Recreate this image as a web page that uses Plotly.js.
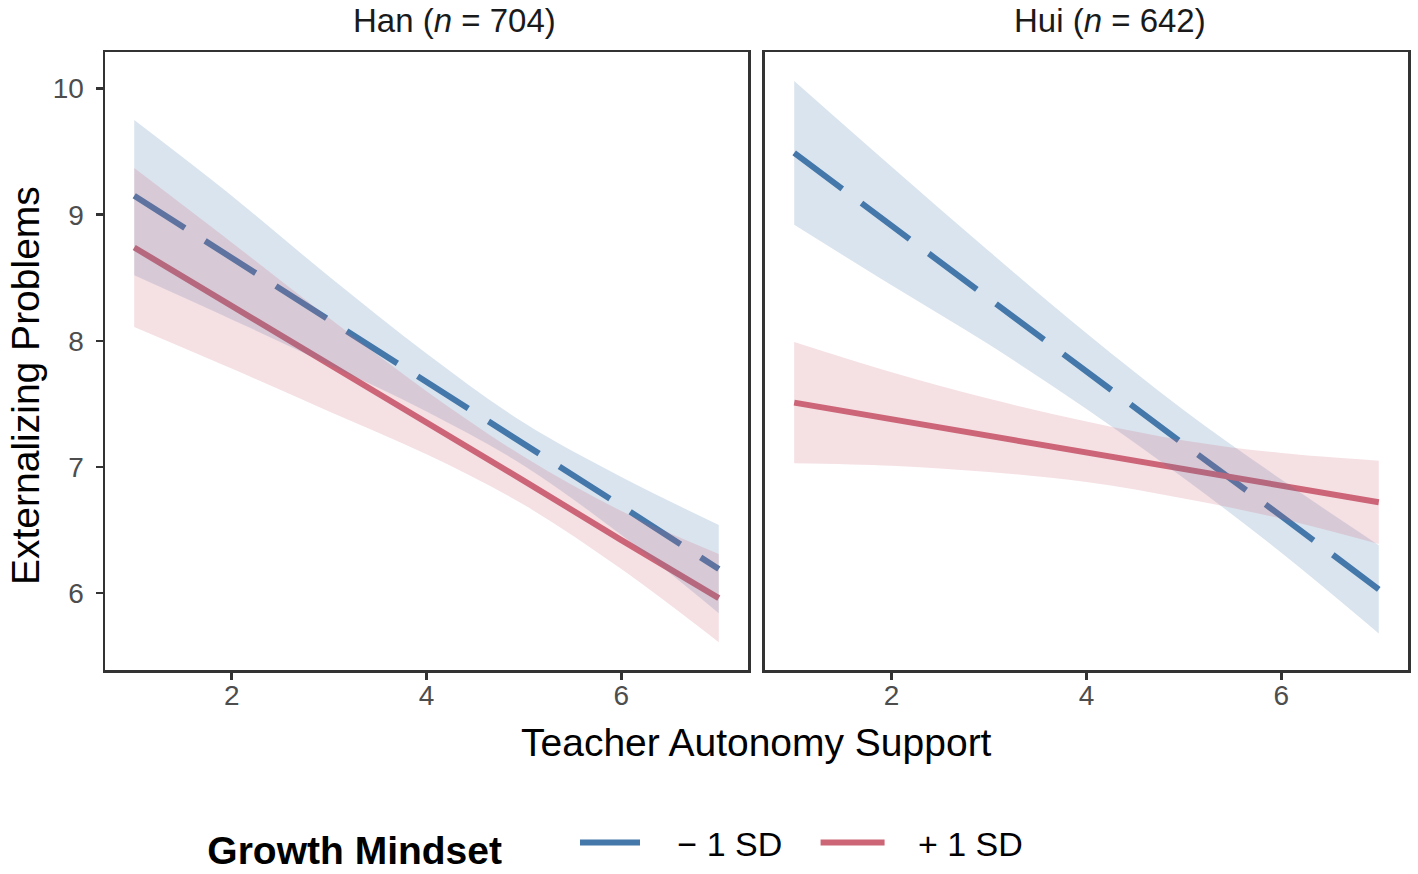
<!DOCTYPE html>
<html>
<head>
<meta charset="utf-8">
<script src="https://cdn.plot.ly/plotly-3.0.1.min.js"></script>
<style>
  html, body { margin: 0; padding: 0; background: #fff; }
  #myDiv { width: 1418px; height: 874px; }
</style>
</head>
<body>
<div id="myDiv"></div>
<script>
// teacher autonomy support values where the fitted lines were read
var xGrid = [1, 2, 3, 4, 5, 6, 7];

// Han (n = 704)
var hanLowFit = [9.15, 8.66, 8.16, 7.67, 7.18, 6.69, 6.19];     // growth mindset -1 SD
var hanLowUpper = [9.75, 9.15, 8.51, 7.90, 7.35, 6.92, 6.54];
var hanLowLower = [8.52, 8.17, 7.81, 7.44, 7.01, 6.46, 5.84];
var hanHighFit = [8.74, 8.28, 7.81, 7.35, 6.89, 6.42, 5.96];    // growth mindset +1 SD
var hanHighUpper = [9.37, 8.78, 8.18, 7.60, 7.08, 6.65, 6.31];
var hanHighLower = [8.11, 7.78, 7.44, 7.10, 6.70, 6.19, 5.61];

// Hui (n = 642)
var huiLowFit = [9.49, 8.91, 8.34, 7.76, 7.18, 6.61, 6.03];
var huiLowUpper = [10.06, 9.38, 8.71, 8.06, 7.45, 6.90, 6.38];
var huiLowLower = [8.92, 8.44, 7.97, 7.46, 6.91, 6.32, 5.68];
var huiHighFit = [7.51, 7.38, 7.25, 7.12, 6.98, 6.85, 6.72];
var huiHighUpper = [7.99, 7.75, 7.54, 7.36, 7.21, 7.11, 7.05];
var huiHighLower = [7.03, 7.01, 6.96, 6.88, 6.75, 6.59, 6.39];

var panelTitles = ["Han (<i>n</i> = 704)", "Hui (<i>n</i> = 642)"];
var groupNames = ["\u2212 1 SD", "+ 1 SD"];

var blue = "#4477AA";
var red = "#CC6677";
var blueFill = "rgba(68,119,170,0.2)";
var redFill = "rgba(204,102,119,0.2)";
var font = "Liberation Sans, Arial, Helvetica, sans-serif";

function pad(n) {
    return new Array(n + 1).join("&nbsp;");
}

function fitLine(y, xa, ya, name, label, color, dashed, showInLegend) {
    return {
        x: xGrid, y: y, xaxis: xa, yaxis: ya,
        type: "scatter", mode: "lines",
        name: label, legendgroup: name, showlegend: showInLegend,
        line: {color: color, width: 6, dash: dashed ? "60px,24px" : "solid"},
        hoverinfo: "skip"
    };
}

function band(lower, upper, xa, ya, fillColor) {
    // lower edge first, upper edge fills down to it
    var edge = {width: 0, color: "rgba(0,0,0,0)", shape: "spline", smoothing: 1};
    return [{
        x: xGrid, y: lower, xaxis: xa, yaxis: ya,
        type: "scatter", mode: "lines", showlegend: false,
        line: edge, hoverinfo: "skip"
    }, {
        x: xGrid, y: upper, xaxis: xa, yaxis: ya,
        type: "scatter", mode: "lines", showlegend: false,
        fill: "tonexty", fillcolor: fillColor,
        line: edge, hoverinfo: "skip"
    }];
}

// legend labels get some padding so the keys sit like the ggplot guide
var lowLabel = pad(3) + groupNames[0] + pad(3);
var highLabel = pad(3) + groupNames[1];

// lines go down first, the ribbons are laid over them (as in the original)
var data = [
    fitLine(hanLowFit, "x", "y", groupNames[0], lowLabel, blue, true, true),
    fitLine(hanHighFit, "x", "y", groupNames[1], highLabel, red, false, true),
    fitLine(huiLowFit, "x2", "y2", groupNames[0], lowLabel, blue, true, false),
    fitLine(huiHighFit, "x2", "y2", groupNames[1], highLabel, red, false, false)
];
data = data.concat(band(hanLowLower, hanLowUpper, "x", "y", blueFill));
data = data.concat(band(hanHighLower, hanHighUpper, "x", "y", redFill));
data = data.concat(band(huiLowLower, huiLowUpper, "x2", "y2", blueFill));
data = data.concat(band(huiHighLower, huiHighUpper, "x2", "y2", redFill));

function xAxis(domain, anchor) {
    return {
        domain: domain, anchor: anchor, range: [0.7, 7.3],
        tickvals: [2, 4, 6], ticks: "outside", ticklen: 7, tickwidth: 2.5, tickcolor: "#333",
        ticklabelstandoff: -8,
        showgrid: false, zeroline: false,
        showline: true, mirror: true, linecolor: "#333", linewidth: 2.5,
        tickfont: {family: font, size: 28, color: "#4d4d4d"}
    };
}

function yAxis(anchor, labels) {
    return {
        anchor: anchor, range: [5.39, 10.29],
        tickvals: [6, 7, 8, 9, 10], showticklabels: labels,
        ticks: labels ? "outside" : "", ticklen: 7, tickwidth: 2.5, tickcolor: "#333",
        ticklabelstandoff: 6,
        showgrid: false, zeroline: false,
        showline: true, mirror: true, linecolor: "#333", linewidth: 2.5,
        tickfont: {family: font, size: 28, color: "#4d4d4d"}
    };
}

var layout = {
    width: 1418, height: 874,
    margin: {l: 105, r: 10, t: 52, b: 204, autoexpand: false},
    paper_bgcolor: "#fff", plot_bgcolor: "#fff",
    font: {family: font},
    xaxis: xAxis([0, 0.4935], "y"),
    yaxis: yAxis("x", true),
    xaxis2: xAxis([0.5065, 1], "y2"),
    yaxis2: yAxis("x2", false),
    showlegend: true,
    legend: {
        orientation: "h", x: 0.077, xanchor: "left", y: -0.282, yanchor: "middle",
        title: {text: "<b>Growth Mindset</b>" + pad(6), side: "left",
                font: {family: font, size: 39, color: "#000"}},
        font: {family: font, size: 34, color: "#000"},
        itemwidth: 64, tracegroupgap: 0
    },
    annotations: [
        {text: panelTitles[0], xref: "x domain", yref: "paper", x: 0.5, y: 1,
         yanchor: "middle", xshift: 28, yshift: 32, showarrow: false,
         font: {family: font, size: 33, color: "#1a1a1a"}},
        {text: panelTitles[1], xref: "x2 domain", yref: "paper", x: 0.5, y: 1,
         yanchor: "middle", xshift: 24, yshift: 32, showarrow: false,
         font: {family: font, size: 33, color: "#1a1a1a"}},
        {text: "Teacher Autonomy Support", xref: "paper", yref: "paper", x: 0.5, y: 0,
         yanchor: "middle", yshift: -72, showarrow: false,
         font: {family: font, size: 39, color: "#000"}},
        {text: "Externalizing Problems", xref: "paper", yref: "paper", x: 0, y: 0.5,
         xanchor: "center", yanchor: "middle", xshift: -80, yshift: -25, textangle: -90,
         showarrow: false, font: {family: font, size: 39, color: "#000"}}
    ]
};

Plotly.newPlot("myDiv", data, layout, {displayModeBar: false, staticPlot: true});
</script>
</body>
</html>
